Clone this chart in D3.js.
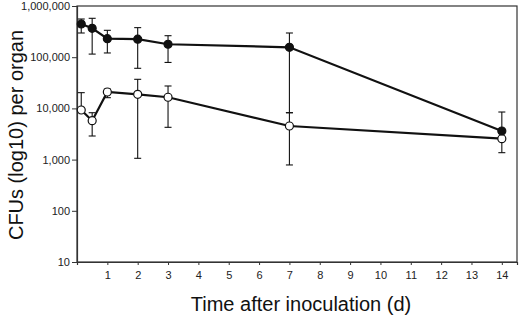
<!DOCTYPE html>
<html>
<head>
<meta charset="utf-8">
<script src="https://cdn.jsdelivr.net/npm/d3@7"></script>
<style>
  body { margin: 0; background: #fff; }
  svg { display: block; font-family: Arial, "Liberation Sans", sans-serif; }
</style>
</head>
<body>
<div id="chart"></div>
<script>
// days after inoculation
const days = [0.14, 0.5, 1, 2, 3, 7, 14];

// filled circles
const filledMean = [445000, 366000, 230000, 225000, 179000, 156000, 3620];
const filledHigh = [557000, 575000, 335000, 378000, 263000, 297000, 8500];
const filledLow  = [297000, 115000, 121000, 60700, 79000, 8240, 3620];

// open circles
const openMean = [9310, 5750, 20900, 18800, 16500, 4530, 2560];
const openHigh = [20300, 8240, 23900, 37000, 27400, 8240, 2560];
const openLow  = [9310, 2890, 16200, 1060, 4270, 786, 1365];

const xTicks = [1, 2, 3, 4, 5, 6, 7, 8, 9, 10, 11, 12, 13, 14];
const yTicks = [10, 100, 1000, 10000, 100000, 1000000];

const width = 520, height = 317;
const margin = { top: 6, right: 3, bottom: 55, left: 77 };
const iw = width - margin.left - margin.right,
  ih = height - margin.top - margin.bottom;

const x = d3.scaleLinear().domain([0, 14.5]).range([0, iw]);
const y = d3.scaleLog().domain([10, 1000000]).range([ih, 0]);

const svg = d3.select("#chart").append("svg")
  .attr("width", width)
  .attr("height", height);

const g = svg.append("g")
  .attr("transform", "translate(" + margin.left + "," + margin.top + ")");

// frame
g.append("rect")
  .attr("width", iw)
  .attr("height", ih)
  .attr("fill", "none")
  .attr("stroke", "#333")
  .attr("stroke-width", 1.2);

const fmt = d3.format(",");

const xAxis = g.append("g")
  .attr("transform", "translate(0," + ih + ")")
  .call(d3.axisBottom(x).tickValues(xTicks).tickSize(3).tickPadding(6).tickFormat(d3.format("d")));
const yAxis = g.append("g")
  .call(d3.axisLeft(y).tickValues(yTicks).tickSize(5).tickPadding(2).tickFormat(fmt));

[xAxis, yAxis].forEach(a => {
  a.select(".domain").attr("stroke", "#333").attr("stroke-width", 1.2);
  a.selectAll(".tick line").attr("stroke", "#333");
  a.selectAll(".tick text")
    .attr("fill", "#222")
    .style("font-size", "11px")
    .style("font-family", "Arial, 'Liberation Sans', sans-serif");
});

function drawSeries(mean, low, high, fill) {
  const pts = days.map((d, i) => ({ d: d, m: mean[i], lo: low[i], hi: high[i] }));

  const bars = g.append("g");
  pts.forEach(p => {
    bars.append("line")
      .attr("x1", x(p.d)).attr("x2", x(p.d))
      .attr("y1", y(p.lo)).attr("y2", y(p.hi))
      .attr("stroke", "#111").attr("stroke-width", 1.1);
    [p.lo, p.hi].forEach(v => {
      bars.append("line")
        .attr("x1", x(p.d) - 3.5).attr("x2", x(p.d) + 3.5)
        .attr("y1", y(v)).attr("y2", y(v))
        .attr("stroke", "#111").attr("stroke-width", 1.1);
    });
  });

  g.append("path")
    .datum(pts)
    .attr("fill", "none")
    .attr("stroke", "#111")
    .attr("stroke-width", 2.2)
    .attr("d", d3.line().x(p => x(p.d)).y(p => y(p.m)));

  g.append("g").selectAll("circle")
    .data(pts)
    .join("circle")
    .attr("cx", p => x(p.d))
    .attr("cy", p => y(p.m))
    .attr("r", 4)
    .attr("fill", fill)
    .attr("stroke", "#111")
    .attr("stroke-width", 1.2);
}

drawSeries(openMean, openLow, openHigh, "#fff");
drawSeries(filledMean, filledLow, filledHigh, "#111");

// axis labels
svg.append("text")
  .attr("x", 301)
  .attr("y", 311)
  .attr("text-anchor", "middle")
  .style("font-size", "20px")
  .attr("fill", "#111")
  .text("Time after inoculation (d)");

svg.append("text")
  .attr("transform", "translate(23," + 135 + ") rotate(-90)")
  .attr("text-anchor", "middle")
  .style("font-size", "20px")
  .attr("fill", "#111")
  .text("CFUs (log10) per organ");
</script>
</body>
</html>
